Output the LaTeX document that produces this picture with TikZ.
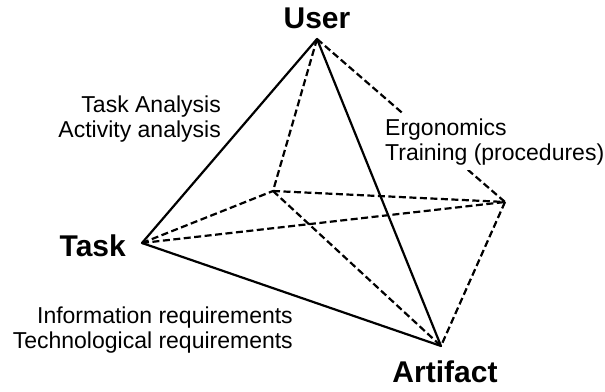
\documentclass[tikz,border=0pt]{standalone}
\usepackage{fontspec}
\setmainfont{Liberation Sans}
\usetikzlibrary{positioning}

\begin{document}
\begin{tikzpicture}[x=1pt,y=-1pt,
  edge/.style={line width=2.2pt,line join=round},
  hidden/.style={edge,dash pattern=on 7pt off 3.5pt},
  vertex/.style={font=\fontsize{30}{32}\selectfont\bfseries,inner sep=0pt},
  note/.style={font=\fontsize{23}{25.5}\selectfont,inner sep=0pt}]
\useasboundingbox (0,0) rectangle (605,391);
\coordinate (user) at (317,39);
\coordinate (task) at (142,243);
\coordinate (artifact) at (441,346);
\coordinate (back) at (273,191);
\coordinate (right) at (505,202);
\draw[edge] (task) -- (user) -- (artifact) -- cycle;
\draw[hidden] (user) -- (back);
\draw[hidden] (user) -- (right);
\draw[hidden] (task) -- (back);
\draw[hidden] (task) -- (right);
\draw[hidden] (back) -- (right);
\draw[hidden] (back) -- (artifact);
\draw[hidden] (right) -- (artifact);
\node[vertex,above=10pt of user] (userlabel) {User};
\node[vertex,left=16pt of task,yshift=-3pt] (tasklabel) {Task};
\node[vertex,below=15pt of artifact,xshift=4pt] (artifactlabel) {Artifact};
\node[note,align=right,anchor=east] (analysis) at (221,119) {Task Analysis\\Activity analysis};
\node[note,align=left,anchor=west,fill=white,inner sep=5pt] (ergonomics) at (380,142) {Ergonomics\\Training (procedures)};
\node[note,align=right,anchor=east] (requirements) at (293,330) {Information requirements\\Technological requirements};
\end{tikzpicture}
\end{document}
